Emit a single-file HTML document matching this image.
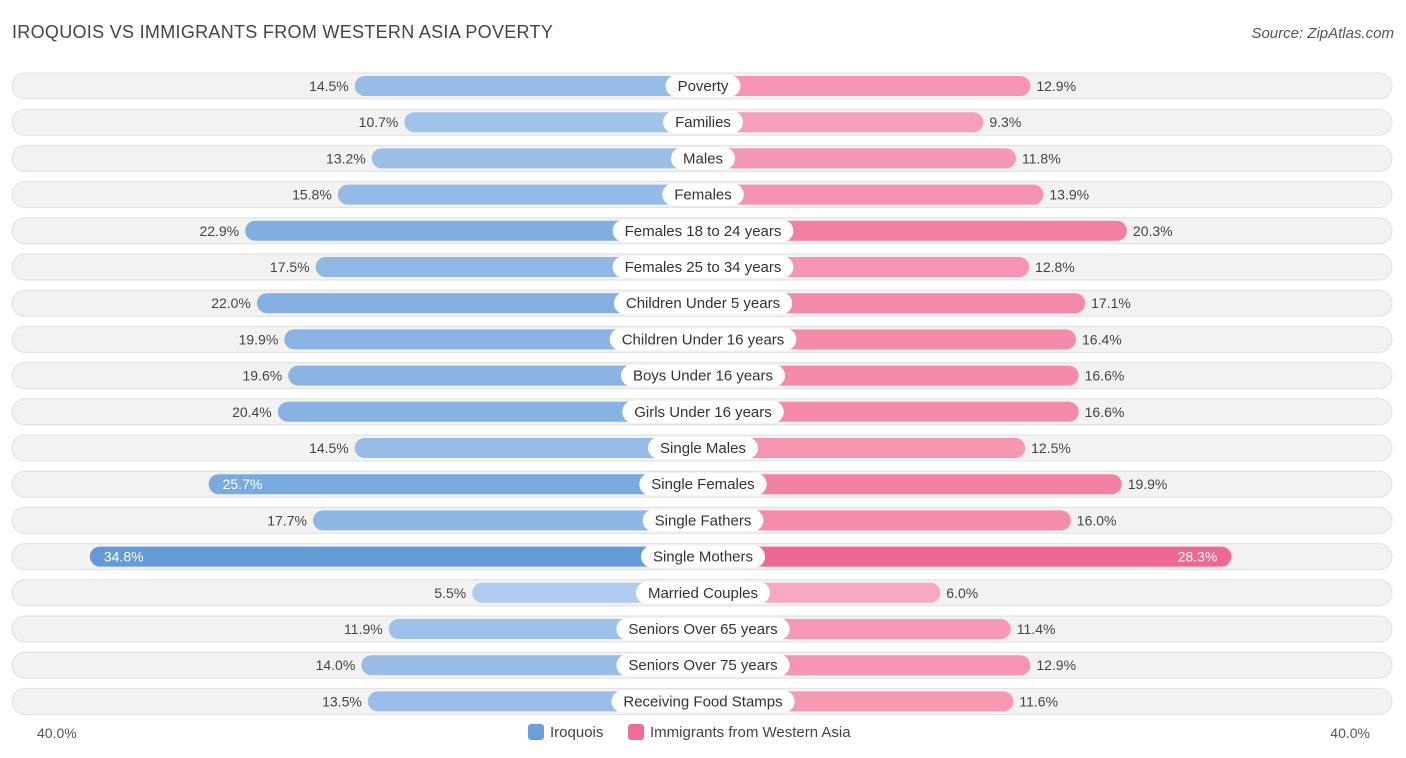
<!DOCTYPE html>
<html><head><meta charset="utf-8">
<style>
body{margin:0;width:1406px;height:758px;background:#fff;font-family:"Liberation Sans",sans-serif;overflow:hidden;position:relative}
.t{position:absolute;white-space:nowrap}
</style></head><body>
<div class="t" style="left:12px;top:22px;font-size:18px;color:#444;letter-spacing:0.3px">IROQUOIS VS IMMIGRANTS FROM WESTERN ASIA POVERTY</div>
<div class="t" style="right:12px;top:25px;font-size:15px;color:#555;font-style:italic">Source: ZipAtlas.com</div>
<svg id="chart" width="1406" height="758" style="position:absolute;left:0;top:0"></svg>
<script>
const categories=["Poverty","Families","Males","Females","Females 18 to 24 years","Females 25 to 34 years","Children Under 5 years","Children Under 16 years","Boys Under 16 years","Girls Under 16 years","Single Males","Single Females","Single Fathers","Single Mothers","Married Couples","Seniors Over 65 years","Seniors Over 75 years","Receiving Food Stamps"];
const iroquois=[14.5,10.7,13.2,15.8,22.9,17.5,22.0,19.9,19.6,20.4,14.5,25.7,17.7,34.8,5.5,11.9,14.0,13.5];
const immigrants=[12.9,9.3,11.8,13.9,20.3,12.8,17.1,16.4,16.6,16.6,12.5,19.9,16.0,28.3,6.0,11.4,12.9,11.6];
const ns="http://www.w3.org/2000/svg";
const svg=document.getElementById('chart');
const cx=703,y0=86,dy=36.2;
function w(v){return 159+13.05*v;}
function yOf(i){return y0+i*dy;}
function mix(a,b,t){return 'rgb('+a.map((x,k)=>Math.round(x+(b[k]-x)*t)).join(',')+')';}
function mk(tag,attrs,parent){const e=document.createElementNS(ns,tag);for(const k in attrs)e.setAttribute(k,attrs[k]);(parent||svg).appendChild(e);return e;}
categories.forEach((c,i)=>{
  const y=yOf(i);
  const g=mk('g',{});
  
  
  const bg=mk('rect',{x:12,y:y-13,width:1380,height:26,rx:13,fill:'#f2f2f2',stroke:'#e0e0e0','stroke-width':1},g);
  
  
  const a=iroquois[i],b=immigrants[i];
  const ta=Math.min(1,Math.max(0,(a-5)/30)),tb=Math.min(1,Math.max(0,(b-5)/24));
  const wl=w(a),wr=w(b);
  const bl=mk('rect',{x:cx-wl,y:y-10,width:wl,height:20,rx:10,fill:mix([176,204,238],[98,154,216],ta)},g);
  
  
  const br=mk('rect',{x:cx,y:y-10,width:wr,height:20,rx:10,fill:mix([247,172,196],[240,102,143],tb)},g);
  
  
  const pill=mk('rect',{x:cx-40,y:y-11,width:80,height:22,rx:11,fill:'#fff'},g);
  
  
  const lt=mk('text',{x:cx,y:y+5,'text-anchor':'middle','font-size':15,fill:'#333'},g);
  lt.textContent=c;
  
  
  const lw=lt.getComputedTextLength()+24;
  pill.setAttribute('x',cx-lw/2);pill.setAttribute('width',lw);
  const inA=a>25,inB=b>25;
  const va=mk('text',{x:inA?cx-wl+14:cx-wl-6,y:y+5,'text-anchor':inA?'start':'end','font-size':14,fill:inA?'#fff':'#444'},g);
  va.textContent=a.toFixed(1)+'%';
  
  
  const vb=mk('text',{x:inB?cx+wr-14:cx+wr+6,y:y+5,'text-anchor':inB?'end':'start','font-size':14,fill:inB?'#fff':'#444'},g);
  vb.textContent=b.toFixed(1)+'%';
  
  
});
</script>
<div class="t" style="left:37px;top:725px;font-size:14px;color:#555">40.0%</div>
<div class="t" style="right:36px;top:725px;font-size:14px;color:#555">40.0%</div>
<div class="t" style="left:528px;top:724px;font-size:15px;color:#444"><span style="display:inline-block;width:16px;height:16px;background:#6b9fdb;border-radius:3px;vertical-align:-3px;margin-right:6px"></span>Iroquois</div>
<div class="t" style="left:628px;top:724px;font-size:15px;color:#444"><span style="display:inline-block;width:16px;height:16px;background:#f06b95;border-radius:3px;vertical-align:-3px;margin-right:6px"></span>Immigrants from Western Asia</div>
</body></html>
